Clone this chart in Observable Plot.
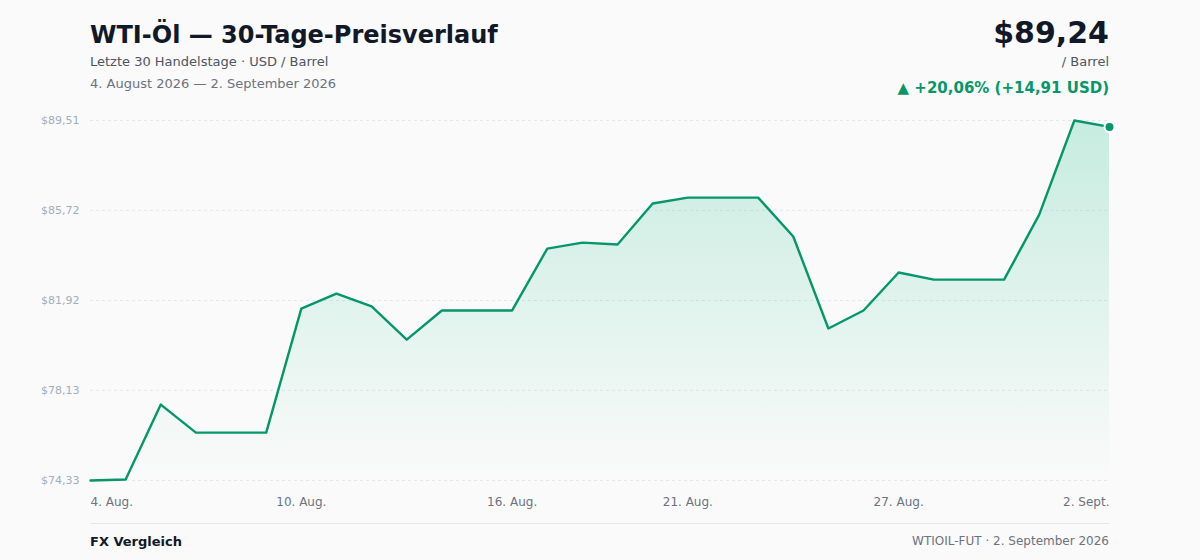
<!DOCTYPE html>
<html>
<head>
<meta charset="utf-8">
<script src="https://cdn.jsdelivr.net/npm/d3@7"></script>
<script src="https://cdn.jsdelivr.net/npm/@observablehq/plot@0.6"></script>
<style>
  html, body { margin: 0; padding: 0; background: #fafafa; }
  body { width: 1200px; height: 560px; position: relative; font-family: "DejaVu Sans", sans-serif; overflow: hidden; }
  .abs { position: absolute; line-height: 1; white-space: nowrap; }
  #title { left: 90px; top: 23px; font-size: 24px; font-weight: bold; color: #111827; }
  #sub { left: 90px; top: 55px; font-size: 13px; color: #4b5563; }
  #range { left: 90px; top: 77px; font-size: 13px; color: #6b7280; }
  #price { right: 91px; top: 18px; font-size: 30px; font-weight: bold; color: #111827; }
  #unit { right: 91px; top: 55px; font-size: 13px; color: #4b5563; }
  #change { right: 91px; top: 81px; font-size: 15px; font-weight: bold; color: #059669; }
  #chart { position: absolute; left: 0; top: 100px; }
  #rule { position: absolute; left: 90px; width: 1019px; top: 523px; height: 1px; background: #e5e7eb; }
  #src { left: 90px; top: 535px; font-size: 13px; font-weight: bold; color: #111827; }
  #meta { right: 91px; top: 535px; font-size: 12px; color: #6b7280; }
</style>
</head>
<body>
<div class="abs" id="title">WTI-Öl — 30-Tage-Preisverlauf</div>
<div class="abs" id="sub">Letzte 30 Handelstage · USD / Barrel</div>
<div class="abs" id="range">4. August 2026 — 2. September 2026</div>
<div class="abs" id="price">$89,24</div>
<div class="abs" id="unit">/ Barrel</div>
<div class="abs" id="change">▲ +20,06% (+14,91 USD)</div>
<div id="chart"></div>
<div id="rule"></div>
<div class="abs" id="src">FX Vergleich</div>
<div class="abs" id="meta">WTIOIL-FUT · 2. September 2026</div>
<script>
const dates = [
  "2026-08-04","2026-08-05","2026-08-06","2026-08-07","2026-08-08","2026-08-09",
  "2026-08-10","2026-08-11","2026-08-12","2026-08-13","2026-08-14","2026-08-15",
  "2026-08-16","2026-08-17","2026-08-18","2026-08-19","2026-08-20","2026-08-21",
  "2026-08-22","2026-08-23","2026-08-24","2026-08-25","2026-08-26","2026-08-27",
  "2026-08-28","2026-08-29","2026-08-30","2026-08-31","2026-09-01","2026-09-02"
];
const prices = [
  74.33, 74.37, 77.53, 76.35, 76.35, 76.35,
  81.58, 82.21, 81.67, 80.27, 81.50, 81.50,
  81.50, 84.11, 84.36, 84.28, 86.01, 86.26,
  86.26, 86.26, 84.62, 80.74, 81.50, 83.10,
  82.80, 82.80, 82.80, 85.54, 89.51, 89.24
];
const yTicks = [74.33, 78.13, 81.92, 85.72, 89.51];
const xTickDates = ["2026-08-04","2026-08-10","2026-08-16","2026-08-21","2026-08-27","2026-09-02"];
const xTickLabels = ["4. Aug.","10. Aug.","16. Aug.","21. Aug.","27. Aug.","2. Sept."];

const green = "#059669";
const data = dates.map((d, i) => ({date: new Date(d + "T00:00:00Z"), price: prices[i]}));
const ticks = xTickDates.map((d, i) => ({date: new Date(d + "T00:00:00Z"), label: xTickLabels[i]}));
const yMin = yTicks[0], yMax = yTicks[yTicks.length - 1];
const fmt = v => "$" + v.toFixed(2).replace(".", ",");

const defs = () => {
  const g = d3.create("svg:defs");
  const lg = g.append("linearGradient").attr("id", "areaGrad").attr("x1", 0).attr("y1", 0).attr("x2", 0).attr("y2", 1);
  lg.append("stop").attr("offset", "0%").attr("stop-color", "#10b981").attr("stop-opacity", 0.22);
  lg.append("stop").attr("offset", "100%").attr("stop-color", "#10b981").attr("stop-opacity", 0.0);
  return g.node();
};

const chart = Plot.plot({
  width: 1200,
  height: 420,
  marginTop: 20,
  marginBottom: 40,
  marginLeft: 90,
  marginRight: 91,
  style: {background: "transparent", fontFamily: "DejaVu Sans, sans-serif", overflow: "visible"},
  x: {type: "utc", domain: [data[0].date, data[data.length - 1].date], axis: null},
  y: {domain: [yMin, yMax], axis: null},
  marks: [
    defs,
    Plot.ruleY(yTicks, {stroke: "#e5e7eb", strokeDasharray: "3,3", strokeWidth: 1}),
    Plot.areaY(data, {x: "date", y1: () => yMin, y2: "price", fill: "url(#areaGrad)"}),
    Plot.lineY(data, {x: "date", y: "price", stroke: green, strokeWidth: 2.4}),
    Plot.dot([data[data.length - 1]], {x: "date", y: "price", r: 5, fill: green, stroke: "white", strokeWidth: 2}),
    Plot.axisY({ticks: yTicks, label: null, tickSize: 0, tickPadding: 11, tickFormat: fmt, fontSize: 11, fill: "#a0aec0"}),
    Plot.text(ticks.slice(0, 1), {x: "date", text: "label", frameAnchor: "bottom", lineAnchor: "top", dy: 17, textAnchor: "start", fontSize: 12, fill: "#6b7280"}),
    Plot.text(ticks.slice(1, -1), {x: "date", text: "label", frameAnchor: "bottom", lineAnchor: "top", dy: 17, textAnchor: "middle", fontSize: 12, fill: "#6b7280"}),
    Plot.text(ticks.slice(-1), {x: "date", text: "label", frameAnchor: "bottom", lineAnchor: "top", dy: 17, textAnchor: "end", fontSize: 12, fill: "#6b7280"})
  ]
});
document.getElementById("chart").appendChild(chart);
</script>
</body>
</html>
